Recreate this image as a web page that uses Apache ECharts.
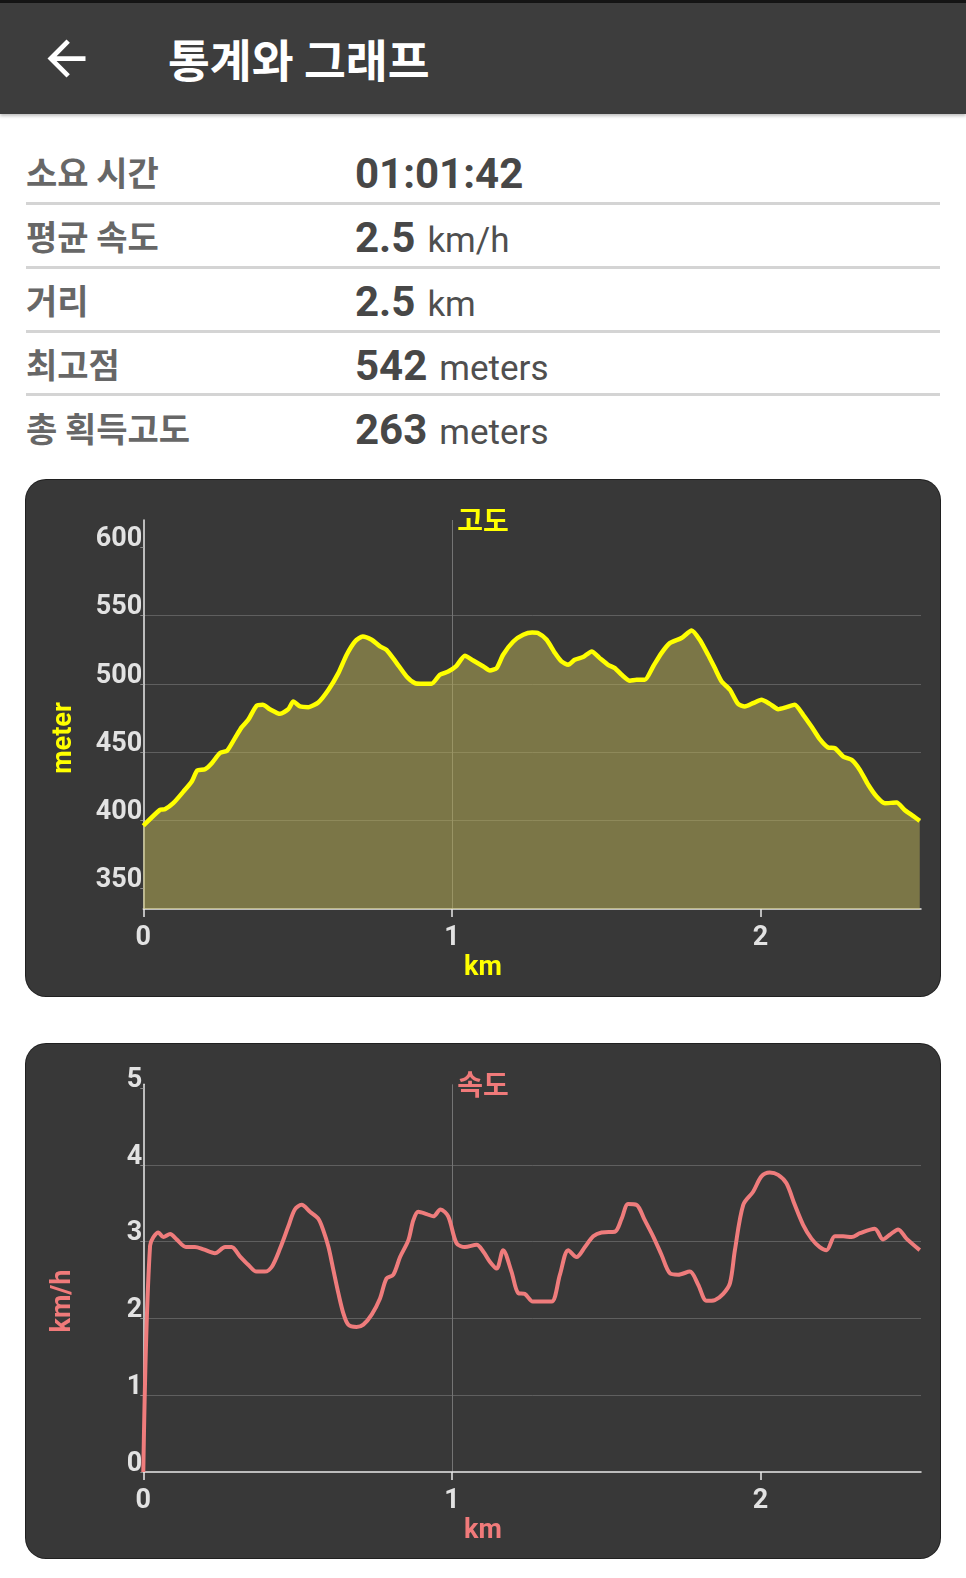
<!DOCTYPE html>
<html>
<head>
<meta charset="utf-8">
<script src="https://cdn.jsdelivr.net/npm/echarts@6/dist/echarts.min.js"></script>
<style>
html,body{margin:0;padding:0;background:#fff;width:966px;height:1578px;overflow:hidden;}
body{position:relative;font-family:Roboto,"Noto Sans CJK KR",sans-serif;}
#topbar{position:absolute;left:0;top:0;width:966px;height:3px;background:#151515;}
#header{position:absolute;left:0;top:3px;width:966px;height:111px;background:#3d3d3d;box-shadow:0 2px 3px rgba(0,0,0,0.25);}
#back{position:absolute;left:37.5px;top:27px;width:57px;height:57px;}
#title{position:absolute;left:168px;top:28px;height:54px;line-height:54px;font-size:45.5px;font-weight:700;color:#fff;font-family:"Noto Sans CJK KR",sans-serif;white-space:nowrap;}
.lab{position:absolute;left:26px;height:60px;line-height:60px;font-size:34px;font-weight:700;color:#676767;font-family:"Noto Sans CJK KR",sans-serif;white-space:nowrap;}
.val{position:absolute;left:355px;height:60px;line-height:60px;white-space:nowrap;font-family:Roboto,sans-serif;}
.val b{font-size:42px;font-weight:700;color:#474747;}
.val span{font-size:35px;font-weight:400;color:#4f4f4f;margin-left:12px;}
.sep{position:absolute;left:26px;width:914px;height:3px;background:#d4d4d4;}
.card{position:absolute;left:26px;width:914px;background:#383838;border-radius:20px;box-shadow:0 0 0 1px #202020;overflow:hidden;}
</style>
</head>
<body>
<div id="topbar"></div>
<div id="header">
  <svg id="back" viewBox="0 0 24 24"><path fill="#ffffff" d="M20 11H7.83l5.59-5.59L12 4l-8 8 8 8 1.41-1.41L7.83 13H20v-2z"/></svg>
  <div id="title">통계와 그래프</div>
</div>
<div id="stats"></div>
<div id="c1" class="card" style="top:480px;height:516px;"></div>
<div id="c2" class="card" style="top:1044px;height:514px;"></div>
<script>
// ---- stats table ----
const statLabels = ['소요 시간', '평균 속도', '거리', '최고점', '총 획득고도'];
const statValues = ['01:01:42', '2.5', '2.5', '542', '263'];
const statUnits  = ['', 'km/h', 'km', 'meters', 'meters'];

// ---- elevation profile (km, meters) ----
const elevKm = [0,0.054,0.07,0.097,0.13,0.157,0.175,0.2,0.222,0.248,0.272,0.297,0.319,0.34,0.367,0.387,0.41,0.443,0.47,0.486,0.508,0.535,0.567,0.6,0.632,0.659,0.686,0.711,0.74,0.767,0.788,0.821,0.853,0.88,0.907,0.934,0.961,0.988,1.013,1.042,1.069,1.102,1.123,1.145,1.166,1.199,1.231,1.26,1.28,1.307,1.334,1.355,1.377,1.398,1.425,1.453,1.479,1.506,1.528,1.55,1.577,1.598,1.625,1.652,1.679,1.706,1.744,1.777,1.803,1.83,1.852,1.874,1.901,1.927,1.949,1.976,2.003,2.03,2.057,2.084,2.111,2.138,2.165,2.192,2.219,2.241,2.268,2.295,2.322,2.349,2.376,2.403,2.441,2.467,2.494,2.516];
const elevM = [396,407.6,408.1,412.5,421,428.4,436.5,437.4,441.8,449.2,451.1,460.2,468.2,473.6,483.9,484.6,481.4,478,481.4,487,483.4,482.9,486.3,495.6,507.8,521.3,531,534.7,532.3,527.4,524.9,515.2,505.4,500.5,500,500,506.6,509,512.7,520.5,517.1,512.7,509.8,511.5,521.3,531,535.9,537.5,537.1,532.3,522.5,516.4,513.9,517.6,519.6,523.7,518.8,513.9,511.5,506.6,502.2,502.9,502.9,512.7,522.5,529.8,533.5,539.1,532.3,521.3,511.5,501.7,495.6,485.3,483.4,485.8,488.3,485.3,481.4,482.9,484.6,477.3,468.7,459.4,453.3,452.8,446.7,444.3,436.9,426,417.4,412.5,413,407.6,403.2,399.6];

// ---- speed profile (km, km/h) ----
const speedKm = [0,0.022,0.049,0.065,0.087,0.108,0.138,0.167,0.195,0.232,0.265,0.286,0.313,0.34,0.367,0.394,0.416,0.443,0.47,0.491,0.513,0.54,0.567,0.583,0.6,0.616,0.632,0.648,0.664,0.691,0.713,0.74,0.767,0.788,0.81,0.832,0.859,0.875,0.891,0.918,0.94,0.963,0.988,1.015,1.042,1.08,1.102,1.123,1.145,1.166,1.193,1.215,1.236,1.262,1.285,1.323,1.35,1.377,1.404,1.431,1.458,1.485,1.528,1.55,1.571,1.598,1.625,1.652,1.679,1.706,1.733,1.771,1.798,1.825,1.852,1.879,1.901,1.917,1.944,1.976,2.003,2.03,2.057,2.084,2.111,2.138,2.165,2.192,2.214,2.241,2.268,2.295,2.322,2.37,2.397,2.419,2.446,2.473,2.516];
const speedV = [0,2.95,3.12,3.06,3.1,3.03,2.93,2.93,2.9,2.85,2.93,2.93,2.81,2.7,2.61,2.61,2.67,2.91,3.2,3.42,3.48,3.39,3.3,3.15,2.93,2.63,2.33,2.07,1.92,1.89,1.92,2.05,2.26,2.52,2.57,2.8,3.02,3.28,3.39,3.36,3.33,3.42,3.33,2.98,2.93,2.96,2.87,2.74,2.65,2.89,2.61,2.33,2.32,2.22,2.22,2.22,2.57,2.89,2.8,2.93,3.07,3.12,3.13,3.3,3.49,3.48,3.28,3.07,2.83,2.59,2.57,2.61,2.44,2.23,2.24,2.32,2.46,2.89,3.48,3.65,3.85,3.9,3.87,3.76,3.48,3.22,3.04,2.93,2.89,3.07,3.07,3.06,3.11,3.17,3.03,3.09,3.16,3.04,2.89];

// axis ticks
const xTicks = [0, 1, 2];
const elevTicks = [350, 400, 450, 500, 550, 600];
const speedTicks = [0, 1, 2, 3, 4, 5];

// build stats table
(function(){
  const host = document.getElementById('stats');
  let html = '';
  for (let i = 0; i < statLabels.length; i++) {
    const top = 143 + 64 * i;
    html += '<div class="lab" style="top:' + (top - 1) + 'px">' + statLabels[i] + '</div>';
    html += '<div class="val" style="top:' + (top + 1) + 'px"><b>' + statValues[i] + '</b>' +
            (statUnits[i] ? '<span>' + statUnits[i] + '</span>' : '') + '</div>';
    if (i < statLabels.length - 1) {
      html += '<div class="sep" style="top:' + Math.round(202 + 63.8 * i) + 'px"></div>';
    }
  }
  host.innerHTML = html;
})();

function makeChart(el, o) {
  const chart = echarts.init(el, null, {renderer: 'canvas'});
  const labelStyle = {color: '#e2e2e2', fontSize: 27, fontWeight: 'bold', fontFamily: 'Roboto'};
  const axisCol = '#e8e8e8';
  chart.setOption({
    animation: false,
    backgroundColor: 'transparent',
    grid: {left: 117.3, right: 19, top: o.gridTop, bottom: o.gridBottom, containLabel: false},
    xAxis: {
      type: 'value', min: 0, max: 2.52, interval: 1,
      axisLine: {show: true, onZero: false, lineStyle: {color: axisCol, width: 1.5}},
      axisTick: {show: true, length: 8, customValues: xTicks, lineStyle: {color: axisCol, width: 1.5}},
      axisLabel: Object.assign({customValues: xTicks, margin: 16, formatter: v => String(v)}, labelStyle),
      splitLine: {show: true, showMinLine: false, showMaxLine: false, lineStyle: {color: '#747474', width: 1}}
    },
    yAxis: Object.assign({
      type: 'value', min: o.yMin, max: o.yMax,
      axisLine: {show: true, onZero: false, lineStyle: {color: axisCol, width: 1.5}},
      axisTick: {show: true, length: 3, customValues: o.yTicks, lineStyle: {color: '#8a8a8a', width: 1}},
      axisLabel: Object.assign({customValues: o.yTicks, margin: 1, verticalAlign: 'bottom', lineHeight: 16}, labelStyle),
      splitLine: {show: true, showMinLine: false, showMaxLine: false, lineStyle: {color: '#5f5f5f', width: 1}}
    }, o.yInterval ? {interval: o.yInterval} : {splitNumber: 5}),
    graphic: [
      {type: 'text', left: 'center', top: o.titleTop, style: {text: o.title, fill: o.color, font: 'bold 28px "Noto Sans CJK KR"'}},
      {type: 'text', left: 'center', top: o.xNameTop, style: {text: 'km', fill: o.color, font: 'bold 27px Roboto'}},
      {type: 'text', x: o.yNameX, y: o.yNameY, rotation: Math.PI / 2,
       style: {text: o.yName, fill: o.color, font: 'bold 27px Roboto', align: 'center', verticalAlign: 'middle'}}
    ],
    series: [o.series]
  });
  return chart;
}

makeChart(document.getElementById('c1'), {
  gridTop: 40, gridBottom: 87, yMin: 335, yMax: 620, yTicks: elevTicks,
  title: '고도', color: '#ffff00', titleTop: 26, xNameTop: 475, yName: 'meter', yNameX: 38, yNameY: 258,
  series: {
    type: 'line', data: elevKm.map((k, i) => [k, elevM[i]]), showSymbol: false, smooth: 0.2,
    lineStyle: {color: '#ffff00', width: 4.5},
    areaStyle: {color: 'rgba(190,180,85,0.5)', opacity: 1, origin: 'start'}
  }
});

makeChart(document.getElementById('c2'), {
  gridTop: 40.3, gridBottom: 86, yMin: 0, yMax: 5.05, yInterval: 1, yTicks: speedTicks,
  title: '속도', color: '#f07a7a', titleTop: 26, xNameTop: 474, yName: 'km/h', yNameX: 37, yNameY: 257,
  series: {
    type: 'line', data: speedKm.map((k, i) => [k, speedV[i]]), showSymbol: false, smooth: 0.3,
    lineStyle: {color: '#ef7c7c', width: 4}
  }
});
</script>
</body>
</html>
